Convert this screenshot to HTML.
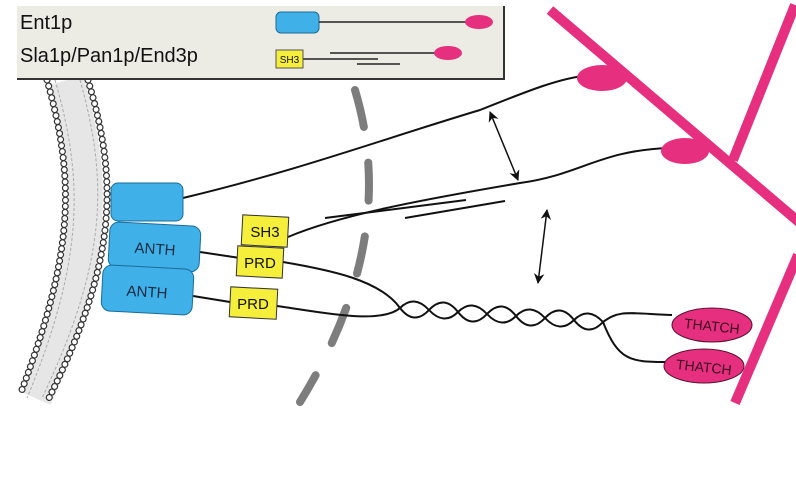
<!DOCTYPE html>
<html><head><meta charset="utf-8"><style>
html,body{margin:0;padding:0;background:#fff;width:796px;height:500px;overflow:hidden}
svg{display:block}
text{font-family:"Liberation Sans",sans-serif}
</style></head><body>
<svg width="796" height="500" viewBox="0 0 796 500" xmlns="http://www.w3.org/2000/svg">
<defs>
<marker id="ah" viewBox="0 0 10 10" refX="9" refY="5" markerWidth="7" markerHeight="9" orient="auto-start-reverse">
<path d="M0,0 L10,5 L0,10 L3,5 z" fill="#111"/></marker>
</defs>
<!-- membrane -->
<path d="M67,80 C96,180 96,260 35,398" fill="none" stroke="#e6e6e6" stroke-width="34"/>
<path d="M55,80 C84,180 84,260 27,398 M80,80 C108,180 108,260 42,398" fill="none" stroke="#aaa" stroke-width="1" stroke-dasharray="3 2"/>
<path d="M47,80 C75,180 75,250 20,395" fill="none" stroke="#333" stroke-width="7" stroke-linecap="round" stroke-dasharray="0.1 6"/>
<path d="M47,80 C75,180 75,250 20,395" fill="none" stroke="#fff" stroke-width="4.6" stroke-linecap="round" stroke-dasharray="0.1 6"/>
<path d="M88,80 C118,180 118,260 48,400" fill="none" stroke="#333" stroke-width="7" stroke-linecap="round" stroke-dasharray="0.1 6"/>
<path d="M88,80 C118,180 118,260 48,400" fill="none" stroke="#fff" stroke-width="4.6" stroke-linecap="round" stroke-dasharray="0.1 6"/>
<!-- gray dashed arc -->
<path d="M355,90 Q400,240 300,402" fill="none" stroke="#7d7d7d" stroke-width="8" stroke-linecap="round" stroke-dasharray="38 36"/>
<!-- actin -->
<g stroke="#e62f7e" stroke-width="10" fill="none">
<line x1="550" y1="10" x2="800" y2="223"/>
<line x1="733" y1="160" x2="795" y2="5"/>
<line x1="798" y1="255" x2="735" y2="403"/>
</g>
<!-- lines -->
<g fill="none" stroke="#111" stroke-width="2">
<path d="M183,198 C300,170 380,140 480,110 C530,90 560,78 590,75"/>
<path d="M288,237 C340,215 420,200 520,183 C580,175 600,150 670,148"/>
<path d="M325,218 L466,200 M405,218 L505,201"/>
<path d="M200,252 L240,258 M283,262 C330,270 380,280 400,308"/>
<path d="M193,296 L230,302 M277,306 C320,312 380,325 400,308"/>
<path d="M400,308 q14,-14 29,2 t29,2 t29,2 t29,2 t29,2 t29,2 t29,2"/>
<path d="M400,308 q14,18 29,2 t29,2 t29,2 t29,2 t29,2 t29,2 t29,2"/>
<path d="M603,322 C620,310 625,313 672,315"/>
<path d="M603,322 C618,360 630,362 665,362"/>
</g>
<!-- arrows -->
<line x1="490" y1="112" x2="518" y2="180" stroke="#111" stroke-width="1.5" marker-start="url(#ah)" marker-end="url(#ah)"/>
<line x1="547" y1="210" x2="538" y2="283" stroke="#111" stroke-width="1.5" marker-start="url(#ah)" marker-end="url(#ah)"/>
<!-- pink blobs -->
<ellipse cx="602" cy="78" rx="25" ry="13" fill="#e62f7e"/>
<ellipse cx="685" cy="151" rx="24" ry="13" fill="#e62f7e"/>
<ellipse cx="712" cy="325" rx="40" ry="17" fill="#e62f7e" stroke="#5a1030" stroke-width="1"/>
<ellipse cx="704" cy="366" rx="40" ry="17" fill="#e62f7e" stroke="#5a1030" stroke-width="1"/>
<text x="712" y="331" font-size="14" text-anchor="middle" fill="#3a0a1e" transform="rotate(6 712 325)">THATCH</text>
<text x="704" y="372" font-size="14" text-anchor="middle" fill="#3a0a1e" transform="rotate(6 704 366)">THATCH</text>
<!-- blue boxes -->
<rect x="111" y="183" width="72" height="38" rx="7" fill="#3fb0e8" stroke="#1a6d9a"/>
<rect x="109" y="224" width="91" height="46" rx="9" fill="#3fb0e8" stroke="#1a6d9a" transform="rotate(3 154 247)"/>
<rect x="102" y="267" width="91" height="46" rx="9" fill="#3fb0e8" stroke="#1a6d9a" transform="rotate(3 147 290)"/>
<text x="155" y="254" font-size="15" text-anchor="middle" fill="#0f2a40" transform="rotate(4 155 249)">ANTH</text>
<text x="147" y="297" font-size="15" text-anchor="middle" fill="#0f2a40" transform="rotate(4 147 292)">ANTH</text>
<!-- yellow boxes -->
<g fill="#f5ee3a" stroke="#333" stroke-width="1">
<rect x="242" y="216" width="46" height="30" transform="rotate(3 265 231)"/>
<rect x="237" y="247" width="46" height="30" transform="rotate(3 260 262)"/>
<rect x="230" y="288" width="47" height="30" transform="rotate(3 253 303)"/>
</g>
<text x="265" y="237" font-size="15" text-anchor="middle" fill="#111">SH3</text>
<text x="260" y="268" font-size="15" text-anchor="middle" fill="#111">PRD</text>
<text x="253" y="309" font-size="15" text-anchor="middle" fill="#111">PRD</text>
<!-- legend -->
<rect x="17" y="6" width="487" height="73" fill="#ecebe4"/>
<path d="M17,79 H504 V6" fill="none" stroke="#333" stroke-width="2"/>
<text x="20" y="29" font-size="20" fill="#111">Ent1p</text>
<text x="20" y="62" font-size="20" fill="#111">Sla1p/Pan1p/End3p</text>
<rect x="276" y="12" width="43" height="21" rx="5" fill="#3fb0e8" stroke="#1a6d9a"/>
<line x1="319" y1="22" x2="466" y2="22" stroke="#222" stroke-width="1.5"/>
<ellipse cx="479" cy="22" rx="14" ry="7" fill="#e62f7e"/>
<line x1="303" y1="59" x2="378" y2="59" stroke="#222" stroke-width="1.5"/>
<line x1="330" y1="53" x2="436" y2="53" stroke="#222" stroke-width="1.5"/>
<line x1="357" y1="64" x2="400" y2="64" stroke="#222" stroke-width="1.5"/>
<ellipse cx="448" cy="53" rx="14" ry="7" fill="#e62f7e"/>
<rect x="276" y="50" width="27" height="18" fill="#f5ee3a" stroke="#555"/>
<text x="289.5" y="63" font-size="10" text-anchor="middle" fill="#111">SH3</text>
</svg>
</body></html>
